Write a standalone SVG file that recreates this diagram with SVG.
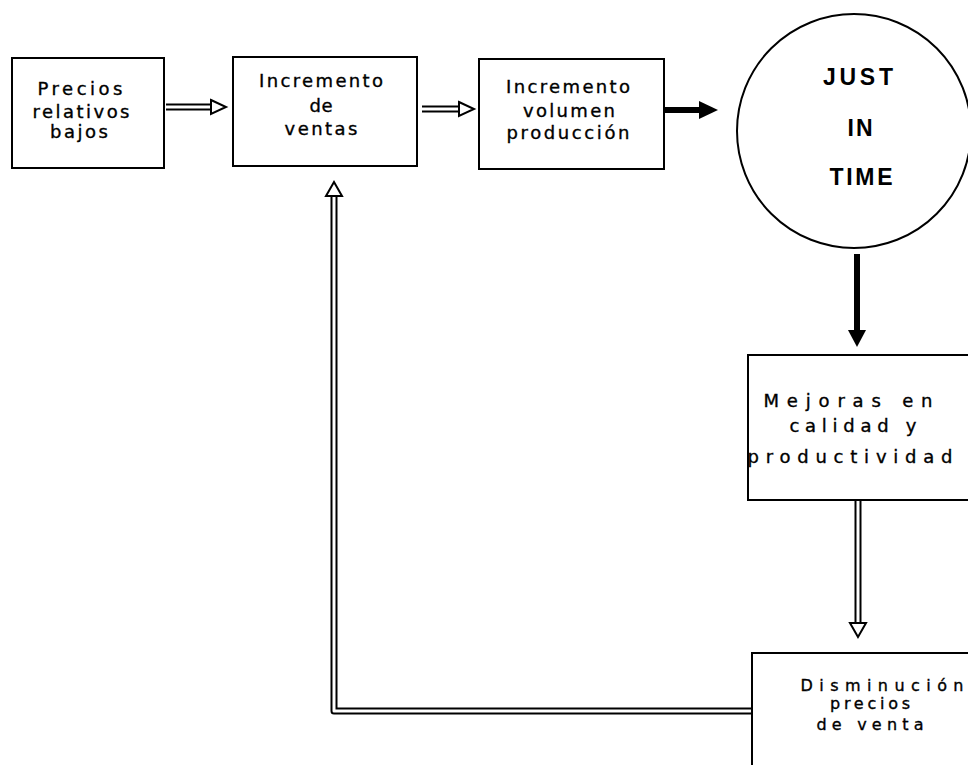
<svg xmlns="http://www.w3.org/2000/svg" width="968" height="765" viewBox="0 0 968 765">
  <style>
    .box { fill: #fff; stroke: #000; stroke-width: 2; }
    .ring { fill: #fff; stroke: #000; stroke-width: 2; }
    .lbl { font-family: "DejaVu Sans", "Liberation Sans", Arial, sans-serif; font-size: 18px; text-anchor: middle; fill: #000; stroke: #000; stroke-width: 0.35; }
    .sm { font-size: 16px; }
    .big { font-family: "Liberation Sans", Arial, sans-serif; font-size: 23px; font-weight: bold; text-anchor: middle; fill: #000; }
    .hollow-out { fill: none; stroke: #000; stroke-width: 7; stroke-linejoin: round; }
    .hollow-in { fill: none; stroke: #fff; stroke-width: 3; stroke-linejoin: round; }
    .head-open { fill: #fff; stroke: #000; stroke-width: 2; stroke-linejoin: miter; }
    .solid { fill: none; stroke: #000; stroke-width: 6; }
    .head-solid { fill: #000; stroke: none; }
  </style>
  <rect width="968" height="765" fill="#fff"/>

  <g id="connectors">
    <!-- Precios -> Incremento de ventas (open arrow) -->
    <path class="hollow-out" d="M166 107 H212"/>
    <path class="hollow-in" d="M164 107 H213"/>
    <polygon class="head-open" points="211,100 226,107 211,114"/>

    <!-- Incremento de ventas -> Incremento volumen (open arrow) -->
    <path class="hollow-out" d="M422 109 H460"/>
    <path class="hollow-in" d="M420 109 H461"/>
    <polygon class="head-open" points="459,102 474,109 459,116"/>

    <!-- Incremento volumen -> Just in time (solid arrow) -->
    <path class="solid" d="M664 110 H702"/>
    <polygon class="head-solid" points="699,101 718,110 699,119"/>

    <!-- Just in time -> Mejoras (solid arrow) -->
    <path class="solid" d="M857 254 V334"/>
    <polygon class="head-solid" points="848,330 857,347 866,330"/>

    <!-- Mejoras -> Disminucion (open arrow) -->
    <path class="hollow-out" d="M858 501 V624"/>
    <path class="hollow-in" d="M858 499 V625"/>
    <polygon class="head-open" points="850,623 858,637 866,623"/>

    <!-- Disminucion -> Incremento de ventas (open feedback arrow) -->
    <path class="hollow-out" d="M751 711 H334 V196"/>
    <path class="hollow-in" d="M753 711 H334 V195"/>
    <polygon class="head-open" points="326,196 334,182 342,196"/>
  </g>

  <g id="precios-bajos">
    <rect class="box" x="12" y="58" width="152" height="110"/>
    <text class="lbl" x="80" y="95" textLength="85" lengthAdjust="spacing">Precios</text>
    <text class="lbl" x="81" y="118" textLength="97" lengthAdjust="spacing">relativos</text>
    <text class="lbl" x="79" y="138" textLength="58" lengthAdjust="spacing">bajos</text>
  </g>

  <g id="incremento-ventas">
    <rect class="box" x="233" y="57" width="184" height="109"/>
    <text class="lbl" x="321" y="87" textLength="124" lengthAdjust="spacing">Incremento</text>
    <text class="lbl" x="321" y="112" textLength="23" lengthAdjust="spacing">de</text>
    <text class="lbl" x="321" y="135" textLength="73" lengthAdjust="spacing">ventas</text>
  </g>

  <g id="incremento-volumen">
    <rect class="box" x="479" y="59" width="185" height="110"/>
    <text class="lbl" x="568" y="93" textLength="124" lengthAdjust="spacing">Incremento</text>
    <text class="lbl" x="569" y="117" textLength="92" lengthAdjust="spacing">volumen</text>
    <text class="lbl" x="568" y="139" textLength="123" lengthAdjust="spacing">producción</text>
  </g>

  <g id="just-in-time">
    <circle class="ring" cx="854" cy="131" r="117"/>
    <text class="big" x="858" y="85" textLength="70" lengthAdjust="spacing">JUST</text>
    <text class="big" x="860" y="136" textLength="25" lengthAdjust="spacing">IN</text>
    <text class="big" x="861" y="185" textLength="63" lengthAdjust="spacing">TIME</text>
  </g>

  <g id="mejoras">
    <rect class="box" x="748" y="355" width="230" height="145"/>
    <text class="lbl" x="848" y="407" textLength="169" lengthAdjust="spacing">Mejoras en</text>
    <text class="lbl" x="853" y="432" textLength="127" lengthAdjust="spacing">calidad y</text>
    <text class="lbl" x="850" y="463" textLength="205" lengthAdjust="spacing">productividad</text>
  </g>

  <g id="disminucion">
    <rect class="box" x="752" y="653" width="230" height="130"/>
    <text class="lbl sm" x="882" y="691" textLength="163" lengthAdjust="spacing">Disminución</text>
    <text class="lbl sm" x="870" y="709" textLength="80" lengthAdjust="spacing">precios</text>
    <text class="lbl sm" x="870" y="730" textLength="107" lengthAdjust="spacing">de venta</text>
  </g>
</svg>
